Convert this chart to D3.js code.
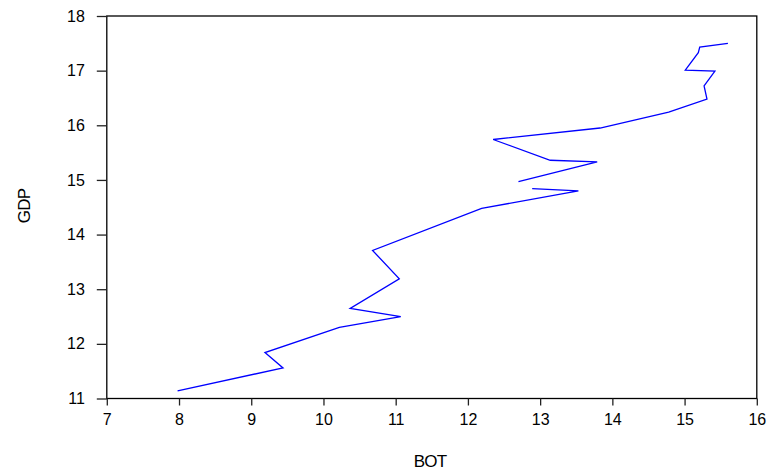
<!DOCTYPE html>
<html>
<head>
<meta charset="utf-8">
<script src="https://cdn.jsdelivr.net/npm/d3@7"></script>
<style>
  body { margin: 0; background: #fff; }
  text { font-family: "Liberation Sans", Arial, sans-serif; fill: #000; }
</style>
</head>
<body>
<div class="chart"></div>
<script>
// observations in order; null marks the missing one (line breaks there)
var bot = [7.98, 9.44, 9.19, 10.22, 11.07, 10.37, 11.05, 10.68, 12.19, 13.53, 12.89,
           null,
           12.70, 13.79, 13.14, 12.35, 13.83, 14.78, 15.31, 15.27, 15.42, 15.01, 15.19, 15.21, 15.60];
var gdp = [11.14, 11.56, 11.84, 12.30, 12.50, 12.65, 13.19, 13.71, 14.48, 14.80, 14.84,
           null,
           14.97, 15.33, 15.36, 15.74, 15.95, 16.24, 16.48, 16.72, 16.99, 17.01, 17.33, 17.43, 17.50];
var xTicks = [7, 8, 9, 10, 11, 12, 13, 14, 15, 16];
var yTicks = [11, 12, 13, 14, 15, 16, 17, 18];

var width = 773, height = 475;
var plotL = 106.8, plotR = 756.8, plotT = 16, plotB = 398.5;

var svg = d3.select(".chart")
  .append("svg")
  .attr("width", width)
  .attr("height", height);

var x = d3.scaleLinear().domain([7, 16]).range([plotL, plotR]);
var y = d3.scaleLinear().domain([11, 18]).range([plotB, plotT]);

var pts = bot.map(function(b, i){ return {x: b, y: gdp[i]}; });

// frame
svg.append("rect")
  .attr("x", plotL)
  .attr("y", plotT)
  .attr("width", plotR - plotL)
  .attr("height", plotB - plotT)
  .attr("fill", "none")
  .attr("stroke", "#000")
  .attr("stroke-width", 1.3);

var xAxis = svg.append("g")
  .attr("transform", "translate(0," + plotB + ")")
  .call(d3.axisBottom(x).tickValues(xTicks).tickSize(7).tickPadding(8).tickFormat(d3.format("d")));

var yAxis = svg.append("g")
  .attr("transform", "translate(" + plotL + ",0)")
  .call(d3.axisLeft(y).tickValues(yTicks).tickSize(10).tickPadding(12).tickFormat(d3.format("d")));

[xAxis, yAxis].forEach(function(g){
  g.attr("font-size", null).attr("font-family", null);
  g.select(".domain").remove();
  g.selectAll(".tick line").attr("stroke", "#222").attr("stroke-width", 1.3);
  g.selectAll(".tick text")
    .style("font-size", "16px")
    .attr("fill", "#000");
});

var line = d3.line()
  .defined(function(d){ return d.x != null && d.y != null; })
  .x(function(d){ return x(d.x); })
  .y(function(d){ return y(d.y); });

svg.append("path")
  .datum(pts)
  .attr("d", line)
  .attr("fill", "none")
  .attr("stroke", "#0000ff")
  .attr("stroke-width", 1.3);

svg.append("text")
  .attr("x", 430)
  .attr("y", 466.5)
  .attr("text-anchor", "middle")
  .style("font-size", "17px")
  .style("letter-spacing", "-0.8px")
  .text("BOT");

svg.append("text")
  .attr("transform", "translate(30,206) rotate(-90)")
  .attr("text-anchor", "middle")
  .style("font-size", "17px")
  .style("letter-spacing", "-0.8px")
  .text("GDP");
</script>
</body>
</html>
